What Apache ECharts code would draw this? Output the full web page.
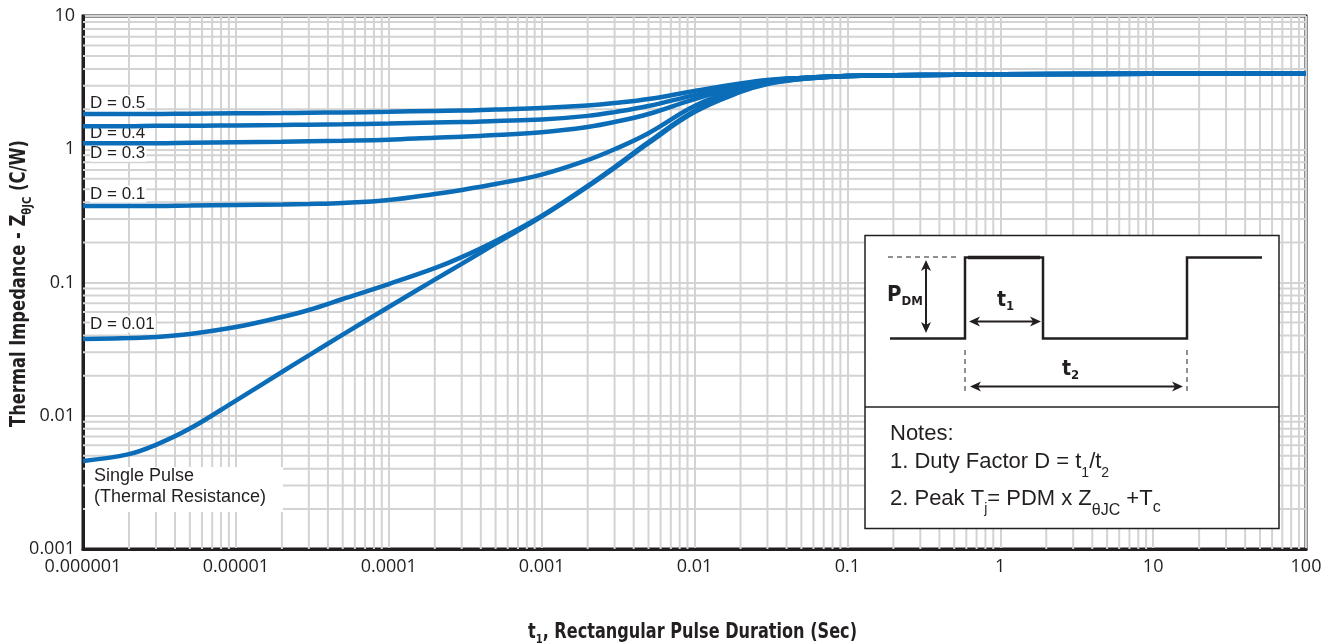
<!DOCTYPE html>
<html>
<head>
<meta charset="utf-8">
<script src="https://cdn.jsdelivr.net/npm/echarts@6/dist/echarts.min.js"></script>
<style>
html,body{margin:0;padding:0;background:#ffffff;}
#c{width:1336px;height:644px;}
</style>
</head>
<body>
<div id="c"></div>
<script>
// ---------------- data ----------------
const pulseDuration = [1e-6,2e-6,3e-6,5e-6,1e-5,2e-5,3e-5,5e-5,1e-4,2e-4,3e-4,5e-4,1e-3,2e-3,3e-3,5e-3,1e-2,2e-2,3e-2,5e-2,0.1,0.2,0.5,1,10,100];
const zD05    = [1.84,1.84,1.84,1.85,1.86,1.87,1.88,1.89,1.91,1.94,1.95,1.99,2.04,2.13,2.22,2.38,2.74,3.12,3.31,3.43,3.55,3.59,3.63,3.66,3.69,3.72];
const zD04    = [1.49,1.49,1.50,1.50,1.51,1.52,1.53,1.54,1.56,1.59,1.60,1.63,1.67,1.78,1.90,2.11,2.55,3.04,3.28,3.43,3.55,3.59,3.63,3.66,3.69,3.72];
const zD03    = [1.11,1.11,1.11,1.12,1.13,1.14,1.15,1.16,1.18,1.22,1.24,1.28,1.34,1.47,1.60,1.84,2.38,2.98,3.26,3.43,3.55,3.59,3.63,3.66,3.69,3.72];
const zD01    = [0.375,0.375,0.375,0.378,0.382,0.385,0.388,0.395,0.416,0.462,0.495,0.548,0.645,0.830,1.00,1.32,2.11,2.88,3.20,3.40,3.55,3.59,3.63,3.66,3.69,3.72];
const zD001   = [0.0377,0.0383,0.0390,0.0411,0.0463,0.0551,0.0622,0.0752,0.0974,0.128,0.155,0.205,0.316,0.530,0.736,1.13,1.94,2.74,3.12,3.37,3.55,3.59,3.63,3.66,3.69,3.72];
const zSingle = [0.00458,0.00515,0.00605,0.00801,0.0130,0.0213,0.0284,0.0406,0.0655,0.105,0.138,0.196,0.312,0.524,0.723,1.11,1.90,2.69,3.09,3.37,3.55,3.59,3.63,3.66,3.69,3.72];
const curveNames = ['D = 0.5','D = 0.4','D = 0.3','D = 0.1','D = 0.01','Single Pulse'];
const curveValues = [zD05, zD04, zD03, zD01, zD001, zSingle];
const xTickLabels = ['0.000001','0.00001','0.0001','0.001','0.01','0.1','1','10','100'];
const yTickLabels = ['0.001','0.01','0.1','1','10'];
const minorSteps = [2,3,4,5,6,7,8,9];
const singlePulseLines = ['Single Pulse','(Thermal Resistance)'];

// ---------------- styling ----------------
const INK = '#231f20';
const GRIDC = '#d3d3d3';
const BLUE = '#0b6db7';
const SANS = "'Liberation Sans', Arial, Helvetica, sans-serif";
const COND = "'Liberation Sans Narrow', 'Arial Narrow', 'DejaVu Sans Condensed', sans-serif";
const TICKF = "'Open Sans', 'Noto Sans', sans-serif";

const xMinExp = -6, xMaxExp = 2, yMinExp = -3, yMaxExp = 1;
const xMinV = Math.pow(10, xMinExp), xMaxV = Math.pow(10, xMaxExp);
const yMinV = Math.pow(10, yMinExp), yMaxV = Math.pow(10, yMaxExp);
function minorValues(e0, e1){
  const out = [];
  for (let e = e0; e < e1; e++) for (const k of minorSteps) out.push(k * Math.pow(10, e));
  return out;
}
const xMinor = minorValues(xMinExp, xMaxExp);
const yMinor = minorValues(yMinExp, yMaxExp);

// minor grid drawn as a broken line series through the axes' scales
const minorGridData = [];
xMinor.forEach(v => { minorGridData.push([v, yMinV], [v, yMaxV], null); });
yMinor.forEach(v => { minorGridData.push([xMinV, v], [xMaxV, v], null); });

const chart = echarts.init(document.getElementById('c'), null, {renderer: 'canvas'});

const series = [{
  type: 'line', name: 'minor grid', data: minorGridData, showSymbol: false, silent: true, z: 1,
  connectNulls: false, smooth: false,
  lineStyle: {color: GRIDC, width: 2},
  emphasis: {disabled: true}
}];
curveNames.forEach((name, i) => {
  series.push({
    type: 'line', name: name, z: 3, silent: true,
    data: pulseDuration.map((t, j) => [t, curveValues[i][j]]),
    showSymbol: false, smooth: 0.4,
    lineStyle: {color: BLUE, width: 4.5},
    emphasis: {disabled: true}
  });
});

chart.setOption({
  animation: false,
  grid: {left: 83, right: 30, top: 16, bottom: 95, show: true, borderColor: INK, borderWidth: 3,
         backgroundColor: 'transparent', containLabel: false, outerBoundsMode: 'none'},
  xAxis: {
    type: 'log', logBase: 10, min: xMinV, max: xMaxV, splitNumber: 8,
    axisLine: {show: true, lineStyle: {color: INK, width: 3}},
    axisTick: {show: false},
    splitLine: {show: true, lineStyle: {color: GRIDC, width: 2}},
    axisLabel: {
      color: INK, fontSize: 18, fontFamily: TICKF, margin: 9,
      showMinLabel: true, showMaxLabel: true,
      formatter: v => xTickLabels[Math.round(Math.log10(v)) - xMinExp]
    }
  },
  yAxis: {
    type: 'log', logBase: 10, min: yMinV, max: yMaxV, splitNumber: 4,
    axisLine: {show: true, lineStyle: {color: INK, width: 3}},
    axisTick: {show: false},
    splitLine: {show: true, lineStyle: {color: GRIDC, width: 2}},
    axisLabel: {
      color: INK, fontSize: 18, fontFamily: TICKF, margin: 8,
      showMinLabel: true, showMaxLabel: true,
      formatter: v => yTickLabels[Math.round(Math.log10(v)) - yMinExp]
    }
  },
  series: series
});

// ---------------- text helpers ----------------
const mctx = document.createElement('canvas').getContext('2d');
function fontOf(s){ return (s.bold ? 'bold ' : '') + s.size + 'px ' + s.family; }
function widthOf(s){ mctx.font = fontOf(s); return mctx.measureText(s.t).width; }
function textRun(segs, x, baseline, opts){
  opts = opts || {};
  let cur = 0;
  const kids = [];
  segs.forEach(s => {
    kids.push({type: 'text', x: cur, y: (s.dy || 0) - 0.35 * s.size,
      style: {text: s.t, font: fontOf(s), fill: s.fill || INK, align: 'left', verticalAlign: 'middle'}});
    cur += widthOf(s);
  });
  const total = cur;
  let sx = 1;
  if (opts.targetWidth) sx = opts.targetWidth / total;
  if (opts.center) kids.forEach(k => { k.x -= total / 2; });
  return {type: 'group', x: x, y: baseline, rotation: opts.rotation || 0, scaleX: sx, scaleY: 1,
          z: opts.z || 10, children: kids.map(k => Object.assign(k, {z: opts.z || 10}))};
}
function hArrow(x1, x2, y){
  return [
    {type: 'line', z: 11, shape: {x1: x1 + 5, y1: y, x2: x2 - 5, y2: y}, style: {stroke: INK, lineWidth: 2}},
    {type: 'polygon', z: 11, shape: {points: [[x1, y], [x1 + 11, y - 5], [x1 + 8, y], [x1 + 11, y + 5]]}, style: {fill: INK}},
    {type: 'polygon', z: 11, shape: {points: [[x2, y], [x2 - 11, y - 5], [x2 - 8, y], [x2 - 11, y + 5]]}, style: {fill: INK}}
  ];
}
function vArrow(x, y1, y2){
  return [
    {type: 'line', z: 11, shape: {x1: x, y1: y1 + 5, x2: x, y2: y2 - 5}, style: {stroke: INK, lineWidth: 2}},
    {type: 'polygon', z: 11, shape: {points: [[x, y1], [x - 5, y1 + 11], [x, y1 + 8], [x + 5, y1 + 11]]}, style: {fill: INK}},
    {type: 'polygon', z: 11, shape: {points: [[x, y2], [x - 5, y2 - 11], [x, y2 - 8], [x + 5, y2 - 11]]}, style: {fill: INK}}
  ];
}

const graphics = [];

// curve labels (placed relative to each curve's first point)
const labelOffsets = [-10.5, 7, 10, -12, -15];
const labelLeft = chart.convertToPixel({xAxisIndex: 0}, pulseDuration[0]) + 7;
curveNames.slice(0, 5).forEach((name, i) => {
  const py = chart.convertToPixel({yAxisIndex: 0}, curveValues[i][0]);
  graphics.push({type: 'text', z: 2, x: labelLeft, y: py + labelOffsets[i],
    style: {text: name, font: '17px ' + SANS, fill: INK, align: 'left', verticalAlign: 'middle',
            backgroundColor: '#ffffff', padding: [0, 1, 0, 0]}});
});
{
  const py = chart.convertToPixel({yAxisIndex: 0}, zSingle[0]);
  const px = chart.convertToPixel({xAxisIndex: 0}, pulseDuration[0]);
  graphics.push({type: 'rect', z: 2, shape: {x: px + 2, y: py + 6, width: 198, height: 45}, style: {fill: '#ffffff'}});
  singlePulseLines.forEach((t, k) => {
    graphics.push({type: 'text', z: 2, x: px + 11, y: py + 15 + 21 * k,
      style: {text: t, font: '18px ' + SANS, fill: INK, align: 'left', verticalAlign: 'middle'}});
  });
}

// axis titles
graphics.push(textRun([
  {t: 't', size: 21, bold: true, family: COND},
  {t: '1', size: 13, bold: true, family: COND, dy: 4},
  {t: ', Rectangular Pulse Duration (Sec)', size: 21, bold: true, family: COND}
], 692.5, 640, {center: true, targetWidth: 329}));
graphics.push(textRun([
  {t: 'Thermal Impedance - Z', size: 21, bold: true, family: COND},
  {t: 'θJC', size: 13, bold: true, family: COND, dy: 5},
  {t: ' (C/W)', size: 21, bold: true, family: COND}
], 27, 283.5, {center: true, targetWidth: 287, rotation: Math.PI / 2}));

// inset box
graphics.push({type: 'rect', z: 10, shape: {x: 865, y: 235.5, width: 414, height: 293},
  style: {fill: '#ffffff', stroke: INK, lineWidth: 1.5}});
graphics.push({type: 'line', z: 11, shape: {x1: 865, y1: 407, x2: 1279, y2: 407}, style: {stroke: INK, lineWidth: 1.5}});
graphics.push({type: 'polyline', z: 11,
  shape: {points: [[890, 338.5], [965, 338.5], [965, 257.5], [1043, 257.5], [1043, 338.5], [1187, 338.5], [1187, 257.5], [1262, 257.5]]},
  style: {stroke: INK, lineWidth: 2.5, fill: null}});
graphics.push({type: 'line', z: 11, shape: {x1: 968, y1: 257.5, x2: 1040, y2: 257.5}, style: {stroke: INK, lineWidth: 3.5}});
graphics.push({type: 'line', z: 11, shape: {x1: 888, y1: 257, x2: 957, y2: 257}, style: {stroke: INK, lineWidth: 1, lineDash: [5, 4]}});
graphics.push({type: 'line', z: 11, shape: {x1: 965, y1: 350, x2: 965, y2: 394}, style: {stroke: INK, lineWidth: 1, lineDash: [5, 4]}});
graphics.push({type: 'line', z: 11, shape: {x1: 1187, y1: 350, x2: 1187, y2: 394}, style: {stroke: INK, lineWidth: 1, lineDash: [5, 4]}});
vArrow(926, 260, 333).forEach(e => graphics.push(e));
hArrow(969, 1041, 321.5).forEach(e => graphics.push(e));
hArrow(970, 1183, 386.5).forEach(e => graphics.push(e));
graphics.push(textRun([
  {t: 'P', size: 22, bold: true, family: COND},
  {t: 'DM', size: 13, bold: true, family: COND, dy: 3}
], 887, 303, {z: 12}));
graphics.push(textRun([
  {t: 't', size: 21, bold: true, family: COND},
  {t: '1', size: 13, bold: true, family: COND, dy: 3}
], 997, 308, {z: 12}));
graphics.push(textRun([
  {t: 't', size: 21, bold: true, family: COND},
  {t: '2', size: 13, bold: true, family: COND, dy: 3}
], 1062, 377, {z: 12}));
graphics.push(textRun([{t: 'Notes:', size: 22, family: SANS}], 890, 442, {z: 12}));
graphics.push(textRun([
  {t: '1. Duty Factor D = t', size: 22, family: SANS},
  {t: '1', size: 14, family: SANS, dy: 8},
  {t: '/t', size: 22, family: SANS},
  {t: '2', size: 14, family: SANS, dy: 8}
], 890, 470, {z: 12}));
graphics.push(textRun([
  {t: '2. Peak T', size: 22, family: SANS},
  {t: 'j', size: 14, family: SANS, dy: 7},
  {t: '= PDM x Z', size: 22, family: SANS},
  {t: 'θJC', size: 16, family: SANS, dy: 9},
  {t: ' +T', size: 22, family: SANS},
  {t: 'c', size: 16, family: SANS, dy: 6}
], 890, 507, {z: 12}));

chart.setOption({graphic: graphics});
</script>
</body>
</html>
